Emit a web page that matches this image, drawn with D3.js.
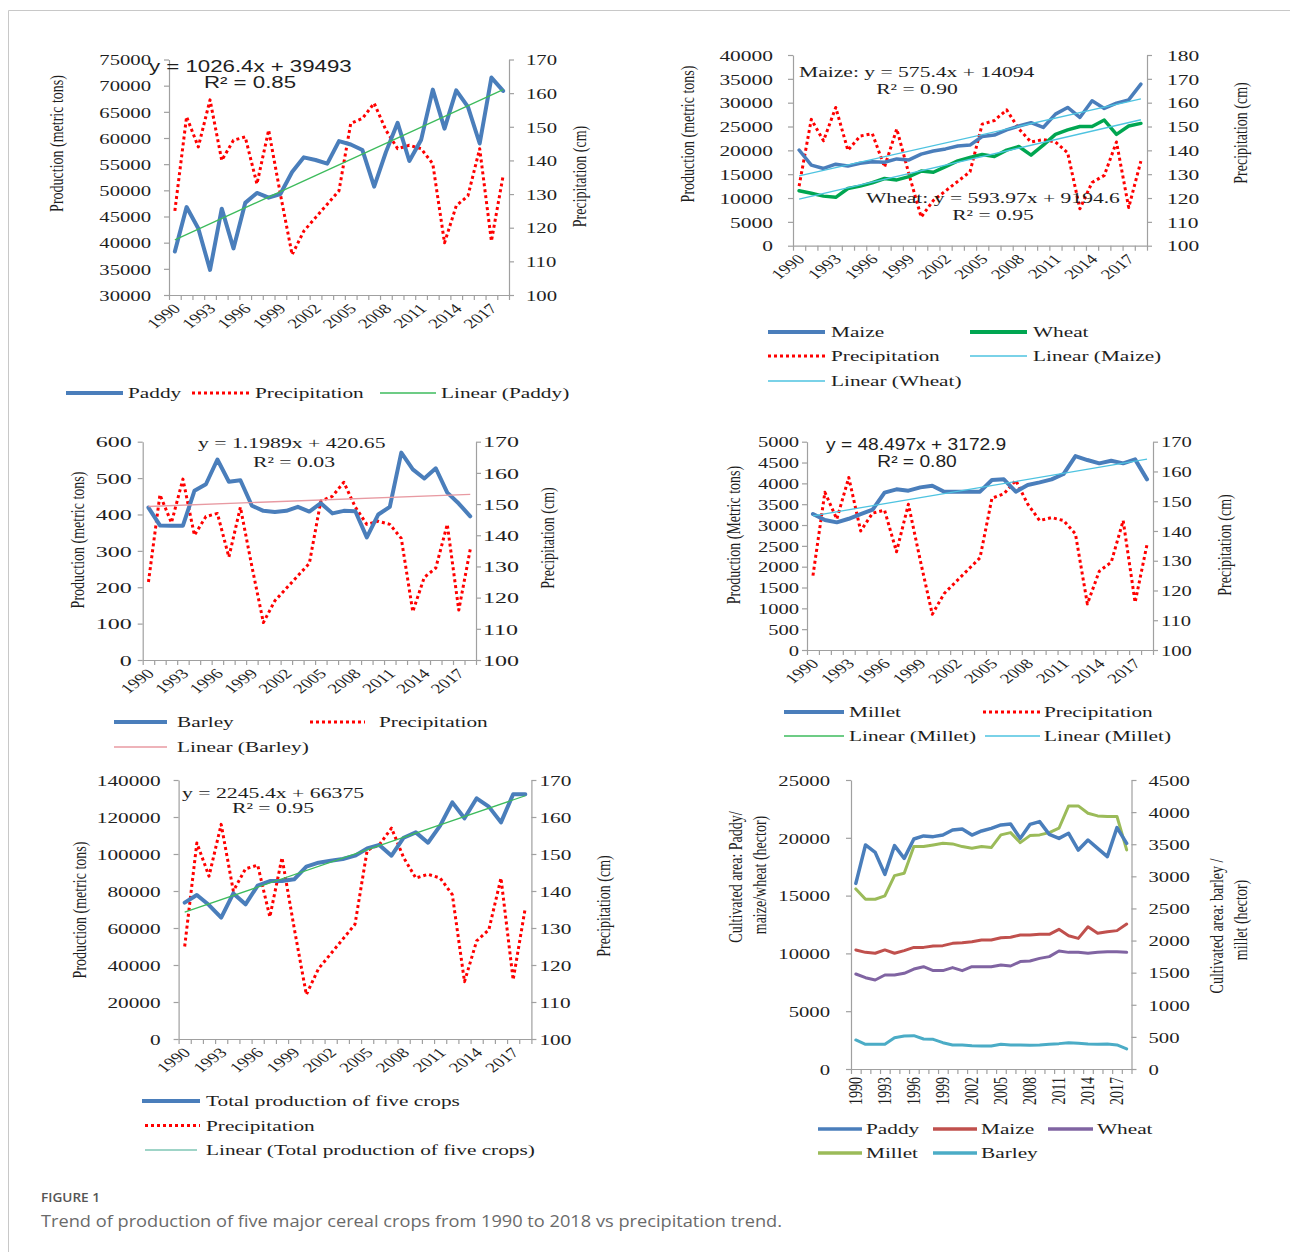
<!DOCTYPE html>
<html><head><meta charset="utf-8">
<script src="https://cdn.jsdelivr.net/npm/d3@7"></script>
<style>body{margin:0;background:#fff}svg{display:block}</style>
</head><body>
<svg id="c" width="1290" height="1252"></svg>
<script>
// ---------------- DATA ----------------
const years = [1990,1991,1992,1993,1994,1995,1996,1997,1998,1999,2000,2001,2002,2003,2004,2005,2006,2007,2008,2009,2010,2011,2012,2013,2014,2015,2016,2017,2018];
const yearTicks = [1990,1993,1996,1999,2002,2005,2008,2011,2014,2017];

const precipitation = [125,153,144,158,140,146,147,133,149,130,112,119,123,127,131,151,152.5,157,149,143.5,144.5,143.5,139,115.5,126.5,129.5,143.5,116,135.5];

const paddyProduction = [38300,46800,42700,34800,46500,38900,47600,49500,48600,49300,53500,56300,55800,55100,59400,58750,57700,50700,57300,62900,55600,59600,69250,61800,69100,65950,58950,71550,69000];
const maizeProduction = [20070,16900,16200,17100,16700,17300,17600,17500,18200,18000,19200,19850,20300,20900,21100,22900,23200,24300,25100,25800,24800,27600,29000,26900,30400,28800,29900,30600,33900];
const wheatProduction = [11540,11000,10400,10150,12000,12500,13200,14100,13800,14500,15650,15400,16600,17800,18500,19150,18700,20050,20800,19000,21100,23350,24300,25000,25000,26350,23350,25100,25650];
const barleyProduction = [419,370,369,369,465,483,551,490,494,424,410,407,410,421,408,431,403,410,409,337,400,421,570,524,499,527,460,430,395];
const milletProduction = [3264,3120,3064,3150,3260,3370,3776,3856,3824,3904,3944,3800,3800,3800,3800,4080,4096,3800,3960,4024,4096,4224,4656,4560,4480,4544,4480,4576,4096];
const totalProduction = [73700,77800,72400,65600,78700,72800,82900,85400,85400,86300,93200,95300,96400,97300,99100,103000,104900,99100,108800,111700,106100,115300,127900,119300,130100,125600,117100,132300,132300];

const paddyArea = [16060,19380,18740,16840,19320,18220,19900,20160,20100,20240,20670,20760,20240,20590,20820,21110,21190,19950,21160,21400,20300,19950,20390,18940,19810,19090,18370,20880,19520];
const maizeArea = [10300,10090,10010,10300,10010,10240,10520,10520,10640,10670,10870,10930,11010,11160,11160,11360,11390,11590,11590,11650,11650,12080,11530,11300,12310,11740,11880,11970,12540];
const wheatArea = [8220,7900,7700,8130,8130,8280,8650,8850,8510,8510,8770,8510,8850,8850,8850,9000,8910,9290,9340,9570,9720,10210,10090,10090,10010,10090,10150,10150,10090];
const milletArea = [2804,2643,2643,2695,3011,3048,3463,3463,3489,3515,3505,3463,3437,3463,3448,3645,3681,3525,3634,3645,3681,3749,4097,4097,3982,3941,3931,3931,3411];
const barleyArea = [452,384,384,384,488,514,519,467,462,410,374,374,363,358,358,384,374,374,369,374,384,395,410,400,389,384,389,374,312];

// trendline equations as printed on the chart: [slope, intercept], x = 1..29
const paddyTrend = [1026.4, 39493];
const maizeTrend = [575.4, 14094];
const wheatTrend = [593.97, 9194.6];
const barleyTrend = [1.1989, 420.65];
const milletTrend = [48.497, 3172.9];
const totalTrend = [2245.4, 66375];

const ticks30k75k = [30000,35000,40000,45000,50000,55000,60000,65000,70000,75000];
const ticks0to40k = [0,5000,10000,15000,20000,25000,30000,35000,40000];
const ticks0to600 = [0,100,200,300,400,500,600];
const ticks0to5000 = [0,500,1000,1500,2000,2500,3000,3500,4000,4500,5000];
const ticks0to140k = [0,20000,40000,60000,80000,100000,120000,140000];
const ticks0to25k = [0,5000,10000,15000,20000,25000];
const ticks0to4500 = [0,500,1000,1500,2000,2500,3000,3500,4000,4500];
const precipTicks170 = [100,110,120,130,140,150,160,170];
const precipTicks180 = [100,110,120,130,140,150,160,170,180];

// ---------------- STYLE ----------------
const SERIF = "'Liberation Serif','Times New Roman',serif";
const SANS = "'Liberation Sans',Arial,sans-serif";
const AX = "#a0a0a0";
const TXT = "#1e1e1e";
const BLUE = "#4a7ebb", RED = "#ff0000", EXRED = "#c0504d", PURPLE = "#8064a2",
      OLIVE = "#9bbb59", AQUA = "#4bacc6", WGREEN = "#00a651",
      TGREEN = "#3dbb5c", TCYAN = "#4ec3e0", TPINK = "#e89aa2";

const svg = d3.select("#c");
svg.append("rect").attr("width",1290).attr("height",1252).attr("fill","#fff");
svg.append("path").attr("d","M8.5,1252V10.5H1290").attr("fill","none").attr("stroke","#c8c8c8");

function txt(g, x, y, s, o = {}) {
  const t = g.append("text")
    .attr("transform", `translate(${x},${y}) scale(${o.sx ?? 1},1)` + (o.rot ? ` rotate(${o.rot})` : ""))
    .attr("text-anchor", o.anchor || "start")
    .attr("font-family", o.font || SERIF)
    .attr("font-size", o.size || 15)
    .attr("fill", o.fill || TXT);
  if (o.dy) t.attr("dy", o.dy);
  if (o.weight) t.attr("font-weight", o.weight);
  if (o.len) t.attr("textLength", o.len).attr("lengthAdjust", "spacingAndGlyphs");
  t.text(s);
  return t;
}

const sBlue4 = {color: BLUE, width: 4};
const sDot = {color: RED, width: 3, dash: "3,3"};

function panel(c) {
  const g = svg.append("g");
  const x = d3.scaleBand().domain(years).range([c.x0, c.x1]);
  const cx = yr => x(yr) + x.bandwidth() / 2;
  const xi = d3.scaleLinear().domain([0, years.length]).range([c.x0, c.x1]);
  const yL = d3.scaleLinear().domain(c.lDom).range([c.y1, c.y0]);
  const yR = d3.scaleLinear().domain(c.rDom).range([c.y1, c.y0]);

  const styleAxis = a => {
    a.select(".domain").attr("stroke", AX).attr("stroke-width", 1.2);
    a.selectAll(".tick line").attr("stroke", AX).attr("stroke-width", 1.2);
  };
  const la = g.append("g").attr("transform", `translate(${c.x0},0)`)
    .call(d3.axisLeft(yL).tickValues(c.lTicks).tickSize(5).tickSizeOuter(0).tickFormat(d3.format("d")));
  styleAxis(la);
  la.selectAll(".tick text").attr("x", 0).attr("dy", "0.35em")
    .attr("transform", `translate(${-c.gapL},0) scale(${c.tsx},1)`)
    .attr("font-family", SERIF).attr("font-size", 15).attr("fill", TXT);

  const ra = g.append("g").attr("transform", `translate(${c.x1},0)`)
    .call(d3.axisRight(yR).tickValues(c.rTicks).tickSize(5).tickSizeOuter(0).tickFormat(d3.format("d")));
  styleAxis(ra);
  ra.selectAll(".tick text").attr("x", 0).attr("dy", "0.35em")
    .attr("transform", `translate(${c.gapR},0) scale(${c.tsx},1)`)
    .attr("font-family", SERIF).attr("font-size", 15).attr("fill", TXT);

  const ba = g.append("g").attr("transform", `translate(0,${c.y1})`)
    .call(d3.axisBottom(xi).tickValues(d3.range(0, years.length + 1)).tickSize(5).tickSizeOuter(0).tickFormat(""));
  styleAxis(ba);

  const lab = g.append("g").attr("transform", `translate(0,${c.y1})`)
    .call(d3.axisBottom(x).tickValues(yearTicks).tickSize(0).tickFormat(d3.format("d")));
  lab.select(".domain").remove();
  lab.selectAll(".tick text").attr("y", 0).attr("dy", "0.35em").attr("text-anchor", "end")
    .attr("transform", c.vert ? `translate(0,8) scale(1.3,1) rotate(-90)` : `translate(2,11) scale(1.36,1) rotate(-45)`)
    .attr("font-family", SERIF).attr("font-size", 14).attr("fill", TXT);

  const plot = g.append("g");
  c.series.forEach(s => {
    const sc = s.axis === "R" ? yR : yL;
    const p = plot.append("path").datum(s.data)
      .attr("d", d3.line().x((d, i) => cx(years[i])).y(d => sc(d)))
      .attr("fill", "none").attr("stroke", s.color).attr("stroke-width", s.width)
      .attr("stroke-linejoin", "round");
    if (s.dash) p.attr("stroke-dasharray", s.dash); else p.attr("stroke-linecap", "round");
  });
  (c.trends || []).forEach(t => {
    const n = years.length;
    plot.append("line")
      .attr("x1", cx(years[0])).attr("y1", yL(t.coef[0] * 1 + t.coef[1]))
      .attr("x2", cx(years[n - 1])).attr("y2", yL(t.coef[0] * n + t.coef[1]))
      .attr("stroke", t.color).attr("stroke-width", 1.3);
  });

  (c.texts || []).forEach(t => txt(g, t.x, t.y, t.s, t.o));

  (c.legend || []).forEach(l => {
    const ln = g.append("line").attr("x1", l.x1).attr("x2", l.x2).attr("y1", l.y).attr("y2", l.y)
      .attr("stroke", l.st.color).attr("stroke-width", l.st.width);
    if (l.st.dash) ln.attr("stroke-dasharray", l.st.dash);
    txt(g, l.tx, l.y + 5, l.label, {sx: 1.42, size: 15});
  });
}

const titleO = (extra = {}) => Object.assign({sx: 1.35, size: 14, rot: -90, anchor: "middle", dy: "0.35em"}, extra);

// ---------- Panel 1: Paddy ----------
panel({
  x0: 169, x1: 509, y0: 59.5, y1: 295, gapL: 18, gapR: 17, tsx: 1.38,
  lDom: [30000, 75000], lTicks: ticks30k75k, rDom: [100, 170], rTicks: precipTicks170,
  series: [
    {data: precipitation, axis: "R", ...sDot},
    {data: paddyProduction, axis: "L", ...sBlue4}
  ],
  trends: [{coef: paddyTrend, color: TGREEN}],
  texts: [
    {x: 149, y: 72, s: "y = 1026.4x + 39493", o: {font: SANS, size: 16, sx: 1.39}},
    {x: 250, y: 88, s: "R² = 0.85", o: {font: SANS, size: 16, sx: 1.39, anchor: "middle"}},
    {x: 56, y: 143.5, s: "Production (metric tons)", o: titleO()},
    {x: 579, y: 176.5, s: "Precipitation (cm)", o: titleO()}
  ],
  legend: [
    {y: 393, x1: 66, x2: 123, tx: 128, label: "Paddy", st: sBlue4},
    {y: 393, x1: 192, x2: 249, tx: 255, label: "Precipitation", st: sDot},
    {y: 393, x1: 380, x2: 436, tx: 441, label: "Linear (Paddy)", st: {color: TGREEN, width: 1.5}}
  ]
});

// ---------- Panel 2: Maize & Wheat ----------
panel({
  x0: 793, x1: 1147, y0: 55, y1: 245.7, gapL: 20, gapR: 20, tsx: 1.43,
  lDom: [0, 40000], lTicks: ticks0to40k, rDom: [100, 180], rTicks: precipTicks180,
  series: [
    {data: precipitation, axis: "R", ...sDot},
    {data: maizeProduction, axis: "L", color: BLUE, width: 3.5},
    {data: wheatProduction, axis: "L", color: WGREEN, width: 3.5}
  ],
  trends: [{coef: maizeTrend, color: TCYAN}, {coef: wheatTrend, color: TCYAN}],
  texts: [
    {x: 799, y: 77, s: "Maize: y = 575.4x + 14094", o: {sx: 1.44}},
    {x: 917, y: 94, s: "R² = 0.90", o: {sx: 1.44, anchor: "middle"}},
    {x: 866, y: 203, s: "Wheat: y = 593.97x + 9194.6", o: {sx: 1.44}},
    {x: 993, y: 220, s: "R² = 0.95", o: {sx: 1.44, anchor: "middle"}},
    {x: 687, y: 134, s: "Production (metric tons)", o: titleO()},
    {x: 1240, y: 133, s: "Precipitation (cm)", o: titleO()}
  ],
  legend: [
    {y: 332, x1: 768, x2: 825, tx: 831, label: "Maize", st: sBlue4},
    {y: 332, x1: 970, x2: 1027, tx: 1033, label: "Wheat", st: {color: WGREEN, width: 4}},
    {y: 356, x1: 768, x2: 825, tx: 831, label: "Precipitation", st: sDot},
    {y: 356, x1: 970, x2: 1027, tx: 1033, label: "Linear (Maize)", st: {color: TCYAN, width: 1.5}},
    {y: 381, x1: 768, x2: 825, tx: 831, label: "Linear (Wheat)", st: {color: TCYAN, width: 1.5}}
  ]
});

// ---------- Panel 3: Barley ----------
panel({
  x0: 142.7, x1: 476, y0: 441.7, y1: 660, gapL: 11, gapR: 7, tsx: 1.6,
  lDom: [0, 600], lTicks: ticks0to600, rDom: [100, 170], rTicks: precipTicks170,
  series: [
    {data: precipitation, axis: "R", ...sDot},
    {data: barleyProduction, axis: "L", ...sBlue4}
  ],
  trends: [{coef: barleyTrend, color: TPINK}],
  texts: [
    {x: 198, y: 448, s: "y = 1.1989x + 420.65", o: {sx: 1.45}},
    {x: 294, y: 467, s: "R² = 0.03", o: {sx: 1.45, anchor: "middle"}},
    {x: 77, y: 540, s: "Production (metric tons)", o: titleO()},
    {x: 547, y: 538, s: "Precipitation (cm)", o: titleO()}
  ],
  legend: [
    {y: 722, x1: 114, x2: 167, tx: 177, label: "Barley", st: sBlue4},
    {y: 722, x1: 310, x2: 365, tx: 379, label: "Precipitation", st: sDot},
    {y: 747, x1: 114, x2: 167, tx: 177, label: "Linear (Barley)", st: {color: TPINK, width: 1.5}}
  ]
});

// ---------- Panel 4: Millet ----------
panel({
  x0: 807, x1: 1153, y0: 441.7, y1: 650, gapL: 8, gapR: 8, tsx: 1.37,
  lDom: [0, 5000], lTicks: ticks0to5000, rDom: [100, 170], rTicks: precipTicks170,
  series: [
    {data: precipitation, axis: "R", ...sDot},
    {data: milletProduction, axis: "L", ...sBlue4}
  ],
  trends: [{coef: milletTrend, color: TCYAN}],
  texts: [
    {x: 826, y: 450, s: "y = 48.497x + 3172.9", o: {font: SANS, size: 16, sx: 1.2}},
    {x: 917, y: 467, s: "R² = 0.80", o: {font: SANS, size: 16, sx: 1.2, anchor: "middle"}},
    {x: 733, y: 535, s: "Production (Metric tons)", o: titleO()},
    {x: 1224, y: 545, s: "Precipitation (cm)", o: titleO()}
  ],
  legend: [
    {y: 712, x1: 784, x2: 844, tx: 849, label: "Millet", st: sBlue4},
    {y: 712, x1: 983, x2: 1040, tx: 1044, label: "Precipitation", st: sDot},
    {y: 736, x1: 784, x2: 844, tx: 849, label: "Linear (Millet)", st: {color: TGREEN, width: 1.5}},
    {y: 736, x1: 985, x2: 1040, tx: 1044, label: "Linear (Millet)", st: {color: TCYAN, width: 1.5}}
  ]
});

// ---------- Panel 5: Total ----------
panel({
  x0: 178.6, x1: 531.4, y0: 780, y1: 1039, gapL: 18, gapR: 8, tsx: 1.42,
  lDom: [0, 140000], lTicks: ticks0to140k, rDom: [100, 170], rTicks: precipTicks170,
  series: [
    {data: precipitation, axis: "R", ...sDot},
    {data: totalProduction, axis: "L", ...sBlue4}
  ],
  trends: [{coef: totalTrend, color: TGREEN}],
  texts: [
    {x: 182, y: 798, s: "y = 2245.4x + 66375", o: {sx: 1.45}},
    {x: 273, y: 813, s: "R² = 0.95", o: {sx: 1.45, anchor: "middle"}},
    {x: 79, y: 910, s: "Production (metric tons)", o: titleO()},
    {x: 603, y: 906, s: "Precipitation (cm)", o: titleO()}
  ],
  legend: [
    {y: 1101, x1: 142, x2: 200, tx: 206, label: "Total production of five crops", st: sBlue4},
    {y: 1125.5, x1: 145, x2: 200, tx: 206, label: "Precipitation", st: sDot},
    {y: 1150, x1: 145, x2: 197, tx: 206, label: "Linear (Total production of five crops)", st: {color: "#7fc6b5", width: 1.5}}
  ]
});

// ---------- Panel 6: Cultivated area ----------
panel({
  x0: 851, x1: 1131.5, y0: 780, y1: 1069, gapL: 21, gapR: 17, tsx: 1.38, vert: true,
  lDom: [0, 25000], lTicks: ticks0to25k, rDom: [0, 4500], rTicks: ticks0to4500,
  series: [
    {data: barleyArea, axis: "R", color: AQUA, width: 3},
    {data: wheatArea, axis: "L", color: PURPLE, width: 3},
    {data: maizeArea, axis: "L", color: EXRED, width: 3},
    {data: milletArea, axis: "R", color: OLIVE, width: 3},
    {data: paddyArea, axis: "L", color: BLUE, width: 3.5}
  ],
  texts: [
    {x: 735.5, y: 877, s: "Cultivated area: Paddy/", o: titleO()},
    {x: 759.6, y: 875, s: "maize/wheat (hector)", o: titleO()},
    {x: 1216, y: 926, s: "Cultivated area: barley /", o: titleO()},
    {x: 1240, y: 920, s: "millet (hector)", o: titleO()}
  ],
  legend: [
    {y: 1129, x1: 818, x2: 862, tx: 866, label: "Paddy", st: {color: BLUE, width: 3.5}},
    {y: 1129, x1: 933, x2: 977, tx: 981, label: "Maize", st: {color: EXRED, width: 3.5}},
    {y: 1129, x1: 1048, x2: 1093, tx: 1097, label: "Wheat", st: {color: PURPLE, width: 3.5}},
    {y: 1153, x1: 818, x2: 862, tx: 866, label: "Millet", st: {color: OLIVE, width: 3.5}},
    {y: 1153, x1: 933, x2: 977, tx: 981, label: "Barley", st: {color: AQUA, width: 3.5}}
  ]
});

// ---------- Caption ----------
txt(svg, 41, 1202, "FIGURE 1", {font: "'Open Sans',sans-serif", size: 12.5, fill: "#555", weight: 600, len: 59});
txt(svg, 41, 1227, "Trend of production of five major cereal crops from 1990 to 2018 vs precipitation trend.",
  {font: "'Open Sans',sans-serif", size: 16.5, fill: "#6a6a6a", len: 741});
</script>
</body></html>
